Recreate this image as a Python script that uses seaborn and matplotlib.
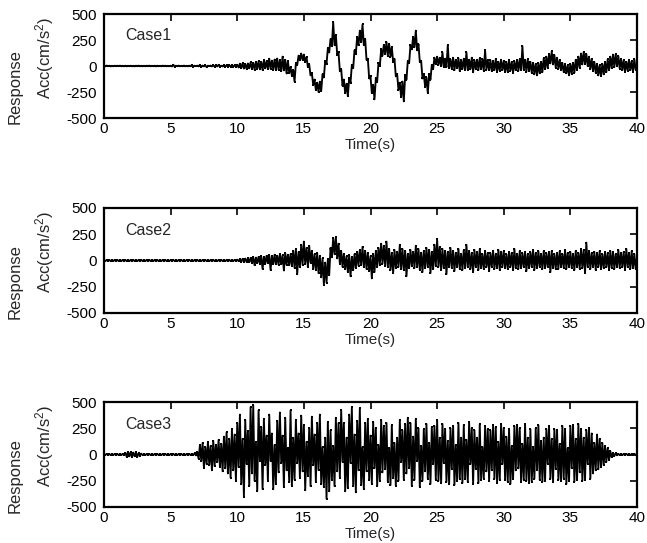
import numpy as np
import pandas as pd
import matplotlib
matplotlib.use("Agg")
import matplotlib.pyplot as plt
import seaborn as sns

case_names = ["Case1", "Case2", "Case3"]
x_ticks = [0, 5, 10, 15, 20, 25, 30, 35, 40]
y_ticks = [-500, -250, 0, 250, 500]

case1 = [
    2,-3,4,-2,3,-4,2,-3,3,-2,
    3,-2,4,-3,2,-3,3,-4,2,-2,
    3,-3,2,-4,3,-2,4,-3,2,-3,
    2,-3,3,-2,4,-3,2,-2,3,-4,
    3,-2,2,-3,4,-2,3,-3,2,-3,
    3,-4,12,-6,3,-2,4,-3,2,-3,
    4,-3,2,-3,3,-2,10,-5,3,-2,
    3,-3,12,-8,4,-3,6,-10,3,-2,
    4,-4,8,-6,5,-4,12,-8,3,-4,
    6,-5,8,-7,6,-6,10,-8,7,-6,
    12,-14,22,-18,26,-24,20,-28,24,-22,
    34,-26,30,-36,40,-25,45,-32,36,-38,
    55,-22,48,-30,70,-26,52,-36,62,-34,
    72,-36,54,-50,90,-42,60,-72,48,-66,
    -10,-95,-40,-150,25,10,100,55,120,60,
    110,40,85,-10,15,-90,-70,-180,-130,-230,
    -160,-250,-150,-240,-80,-110,50,20,170,130,
    260,190,420,200,300,110,130,-50,-30,-190,
    -130,-260,-170,-290,-120,-160,10,-20,150,120,
    280,200,340,230,400,200,260,60,70,-120,
    -100,-260,-180,-320,-120,-150,30,0,160,100,
    200,120,230,100,210,90,180,40,70,-100,
    -80,-230,-160,-300,-150,-340,-90,-130,50,30,
    200,160,280,180,340,150,210,40,50,-120,
    -80,-200,-110,-260,-80,-130,10,-30,80,20,
    90,10,80,0,130,-10,70,-10,200,-20,
    65,-25,80,-40,60,-20,75,-50,55,-30,
    70,-35,130,-40,60,-30,80,-60,55,-25,
    60,-40,75,-30,65,-45,150,-35,55,-40,
    55,-50,45,-40,65,-55,40,-45,60,-40,
    45,-55,40,-60,55,-45,35,-65,45,-40,
    55,-45,65,-40,190,-35,60,-55,65,-45,
    40,-65,30,-80,20,-90,30,-70,40,-60,
    75,-30,90,-20,115,25,140,15,105,-15,
    80,-25,55,-40,30,-60,15,-70,5,-90,
    20,-75,30,-65,60,-35,90,-15,120,15,
    135,20,115,0,90,-30,65,-45,40,-65,
    20,-90,5,-95,20,-80,40,-60,65,-40,
    90,-20,110,-10,115,0,95,-25,70,-40,
    55,-55,40,-45,60,-40,45,-55,65,-35,
    15,
]

case2 = [
    2,-2,3,-3,2,-2,3,-2,2,-3,
    3,-2,2,-3,3,-2,2,-2,3,-3,
    2,-3,3,-2,2,-3,3,-2,2,-2,
    3,-2,2,-3,5,-4,2,-2,3,-3,
    2,-3,3,-2,2,-2,4,-3,2,-3,
    3,-2,6,-4,3,-3,2,-2,3,-2,
    2,-3,3,-2,5,-3,2,-3,3,-2,
    3,-2,2,-3,3,-2,4,-3,2,-3,
    2,-3,3,-2,2,-3,3,-2,3,-2,
    3,-2,2,-3,3,-3,2,-2,4,-3,
    8,-6,12,-10,15,-12,18,-14,20,-16,
    25,-20,30,-45,28,-25,35,-30,40,-80,
    35,-30,45,-25,50,-90,40,-35,55,-30,
    45,-40,60,-35,50,-95,70,-40,55,-45,
    60,-50,90,-70,110,-130,80,-60,150,-40,
    180,-30,120,-60,140,-20,90,-80,60,-90,
    70,-120,40,-160,20,-230,-20,-210,10,-140,
    120,30,210,60,225,20,160,-30,90,-60,
    60,-80,40,-110,50,-150,30,-90,60,-70,
    80,-50,100,-40,130,-60,90,-80,70,-100,
    40,-170,60,-110,90,-60,120,-40,160,-30,
    140,-50,180,-60,110,-90,70,-120,100,-70,
    80,-60,150,-80,110,-90,90,-150,60,-70,
    100,-50,80,-70,140,-60,110,-90,70,-110,
    90,-70,120,-60,100,-120,80,-80,150,-50,
    200,-60,130,-90,110,-70,90,-130,80,-60,
    120,-70,90,-100,70,-60,110,-80,60,-90,
    100,-70,150,-60,90,-80,70,-110,100,-60,
    80,-90,110,-70,60,-80,90,-60,70,-100,
    70,-60,90,-80,60,-70,100,-90,80,-60,
    90,-70,60,-80,80,-60,70,-90,110,-70,
    60,-80,90,-70,70,-60,80,-100,60,-70,
    80,-60,100,-90,70,-70,90,-60,60,-80,
    90,-70,70,-60,80,-110,90,-70,60,-80,
    70,-80,90,-60,60,-70,100,-80,70,-60,
    80,-70,60,-90,90,-60,70,-80,110,-70,
    100,-120,170,-60,90,-80,70,-60,80,-90,
    70,-60,90,-80,60,-70,80,-60,70,-90,
    90,-70,80,-80,60,-60,100,-70,70,-60,
    80,-90,110,-60,70,-80,90,-70,60,-80,
    20,
]

case3 = [
    3,-2,4,-3,2,-3,3,-2,4,-3,
    2,-3,4,-2,3,-4,15,-20,25,-18,
    22,-25,18,-15,20,-22,12,-10,8,-6,
    4,-3,2,-4,3,-2,3,-3,2,-4,
    3,-2,4,-3,2,-3,3,-2,4,-3,
    2,-3,3,-2,4,-3,2,-4,3,-2,
    3,-3,2,-4,3,-2,4,-3,10,-8,
    20,-40,90,-60,110,-130,70,-90,120,-100,
    80,-150,130,-110,90,-70,140,-120,100,-160,
    170,-130,210,-180,150,-220,240,-150,190,-250,
    300,-120,380,-280,150,-400,330,-90,220,-300,
    450,-180,470,-250,120,-350,420,-60,260,-330,
    340,-100,180,-250,380,-60,200,-330,90,-280,
    320,-170,400,-80,180,-310,350,-150,60,-260,
    420,-300,160,-240,330,-80,200,-220,370,-160,
    280,-340,120,-200,250,-300,360,-100,190,-260,
    300,-150,380,-280,70,-310,160,-420,310,-350,
    230,-240,80,-300,350,-160,300,-220,420,-70,
    300,-350,160,-320,380,-80,450,-300,190,-360,
    320,-150,440,-290,70,-330,300,-160,340,-240,
    180,-280,310,-130,250,-300,90,-250,330,-170,
    270,-140,300,-260,60,-290,280,-220,110,-300,
    160,-250,330,-70,230,-240,290,-180,350,-130,
    300,-300,170,-240,340,-60,250,-310,80,-250,
    240,-160,290,-230,110,-280,260,-90,270,-240,
    330,-250,160,-270,290,-80,240,-260,130,-280,
    250,-140,270,-290,90,-250,300,-230,160,-270,
    280,-230,140,-260,310,-90,250,-280,230,-140,
    160,-270,290,-240,70,-230,270,-160,240,-250,
    230,-150,280,-230,260,-270,120,-240,290,-90,
    250,-240,170,-260,240,-280,80,-230,270,-150,
    280,-130,250,-260,100,-240,290,-250,160,-270,
    240,-260,70,-230,250,-150,280,-240,130,-260,
    160,-250,240,-90,270,-230,150,-260,240,-140,
    230,-240,100,-250,270,-230,240,-280,60,-250,
    270,-130,280,-260,150,-240,290,-170,240,-250,
    160,-240,230,-90,250,-230,200,-180,110,-150,
    190,-140,150,-120,110,-100,80,-70,60,-50,
    30,-25,15,-12,10,-8,6,-5,4,-4,
    3,-3,4,-2,3,-3,2,-3,3,-2,
    2,
]

dt = 0.1
time = np.round(np.arange(len(case1)) * dt, 1)

sns.set_theme(style="white")
plt.rcParams["font.family"] = ["Liberation Sans", "DejaVu Sans"]
plt.rcParams["mathtext.fontset"] = "custom"
plt.rcParams["mathtext.rm"] = "Liberation Sans"
plt.rcParams["mathtext.it"] = "Liberation Sans:italic"

fig = plt.figure(figsize=(6.47, 5.43), dpi=100)
W, H = 647.0, 543.0
left_px, right_px = 104, 637
panels_px = [(14, 118), (208, 313), (402, 507)]
aw = right_px - left_px

for name, vals, (top, bot) in zip(case_names, [case1, case2, case3], panels_px):
    ax = fig.add_axes([left_px / W, 1 - bot / H, aw / W, (bot - top) / H])
    df = pd.DataFrame({"Time": time, "Acc": vals})
    sns.lineplot(data=df, x="Time", y="Acc", ax=ax, color="black", linewidth=1.35,
                 marker="s", markersize=1.6, markeredgewidth=0, estimator=None, sort=False)
    ax.set_xlim(0, 40)
    ax.set_ylim(-500, 500)
    ax.set_xticks(x_ticks)
    ax.set_yticks(y_ticks)
    ax.set_xticklabels([str(v) for v in x_ticks])
    ax.set_yticklabels([str(v) for v in y_ticks])
    ax.tick_params(direction="in", length=5, width=1.2, top=True, right=True,
                   labelsize=11, colors="black", pad=3)
    ax.tick_params(axis="y", pad=5)
    for s in ax.spines.values():
        s.set_linewidth(1.6)
        s.set_color("black")
    ax.set_xlabel("Time(s)", fontsize=11, labelpad=1)
    ax.set_ylabel("Acc(cm/s$^{2}$)", fontsize=12)
    ax.yaxis.set_label_coords((56 - left_px) / aw, 0.58)
    ax.text(0.04, 0.79, name, transform=ax.transAxes, fontsize=11.5, va="center", ha="left")
    ax.text((15 - left_px) / aw, 0.3, "Response", transform=ax.transAxes, rotation=90,
            fontsize=12, va="center", ha="center")
    ax.set_facecolor("none")

fig.savefig("out.png", dpi=100)
